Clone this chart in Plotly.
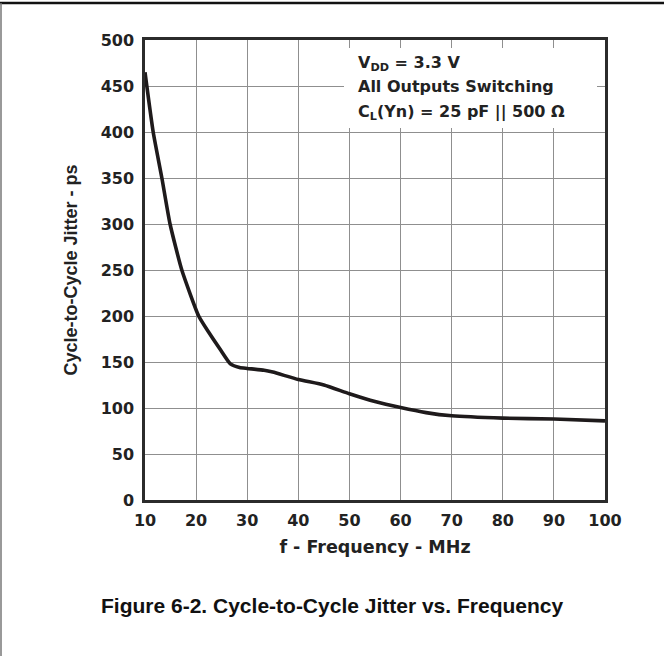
import plotly.graph_objects as go

freq_mhz = [10, 11.6, 13.3, 14.9, 17.2, 20.5, 22.5, 24.8, 26.7, 28.5, 30, 33.3, 35,
            40, 45, 50, 55, 60, 65, 70, 80, 90, 100]
jitter_ps = [465, 400, 350, 300, 250, 200, 182, 163, 148, 144, 143, 141, 139,
             131, 125, 115.5, 107, 100.5, 95, 91.5, 89, 88, 86]

x_ticks = [10, 20, 30, 40, 50, 60, 70, 80, 90, 100]
y_ticks = [0, 50, 100, 150, 200, 250, 300, 350, 400, 450, 500]

cond_lines = ["V<sub>DD</sub> = 3.3 V", "All Outputs Switching",
              "C<sub>L</sub>(Yn) = 25 pF || 500 Ω"]

FONT = "Liberation Sans, Arial, sans-serif"
WIDE = "DejaVu Sans, Verdana, sans-serif"
L, R, T, B = 145, 59, 40, 156
W, H = 664, 656
pw, ph = W - L - R, H - T - B

def px(x):
    return (x - L) / pw

def py(y):
    return (H - B - y) / ph

fig = go.Figure()
fig.add_trace(go.Scatter(
    x=freq_mhz, y=jitter_ps, mode="lines",
    line=dict(color="#1e1a1b", width=3.6, shape="spline", smoothing=0.5),
    showlegend=False, hoverinfo="skip",
))

axis_common = dict(
    showgrid=True, gridcolor="#8f8f8f", gridwidth=1,
    showline=True, linecolor="#2b2b2b", linewidth=2.5, mirror=True,
    ticks="", zeroline=False,
    tickfont=dict(family=WIDE, size=16, color="#222", weight="bold"),
)

fig.update_layout(
    width=W, height=H,
    margin=dict(l=L, r=R, t=T, b=B),
    paper_bgcolor="white", plot_bgcolor="white",
    xaxis=dict(range=[10, 100], tickvals=x_ticks, ticklabelstandoff=4,
               title=dict(text="<b>f - Frequency - MHz</b>", standoff=12,
                          font=dict(family=WIDE, size=17.5, color="#222")),
               **axis_common),
    yaxis=dict(range=[0, 500], tickvals=y_ticks, ticklabelstandoff=5,
               title=dict(text="<b>Cycle-to-Cycle Jitter - ps</b>", standoff=19,
                          font=dict(family=FONT, size=18, color="#222")),
               **axis_common),
    font=dict(family=FONT, color="#222"),
)

# white box behind conditions text
fig.add_shape(type="rect", xref="paper", yref="paper",
              x0=px(344), x1=px(597), y0=py(128), y1=py(48),
              fillcolor="white", line=dict(width=0), layer="above")

for txt, base_y in zip(cond_lines, [69, 93, 118]):
    fig.add_annotation(
        xref="paper", yref="paper", x=px(356), y=py(base_y - 6), xanchor="left",
        yanchor="middle", align="left", showarrow=False,
        text=f"<b>{txt}</b>",
        font=dict(family=WIDE, size=16, color="#222"),
    )

# caption
fig.add_annotation(
    xref="paper", yref="paper", x=px(332), y=py(605), xanchor="center", yanchor="middle",
    showarrow=False, text="<b>Figure 6-2. Cycle-to-Cycle Jitter vs. Frequency</b>",
    font=dict(family=FONT, size=21, color="#111"),
)

# page frame lines (top and left)
fig.add_shape(type="line", xref="paper", yref="paper",
              x0=px(0), x1=px(664), y0=py(3), y1=py(3),
              line=dict(color="#111", width=2.5), layer="above")
fig.add_shape(type="line", xref="paper", yref="paper",
              x0=px(1), x1=px(1), y0=py(3), y1=py(656),
              line=dict(color="#777", width=1.5), layer="above")

fig.write_html("out.html", config={"displayModeBar": False},
               post_script="document.body.style.margin='0';")
